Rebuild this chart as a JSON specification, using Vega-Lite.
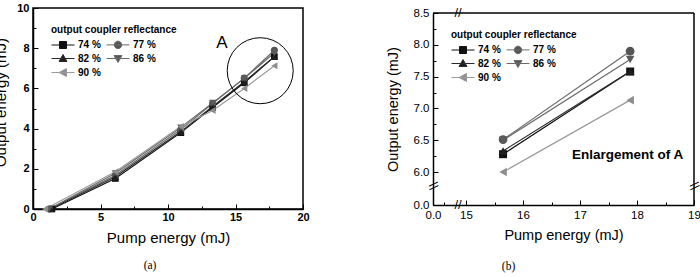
{
  "$schema": "https://vega.github.io/schema/vega-lite/v6.json",
  "padding": {"left": -7, "top": 1, "right": 0, "bottom": 0},
  "background": "white",
  "config": {
    "view": {"stroke": "black", "strokeWidth": 1.5},
    "font": "Liberation Sans",
    "legend": {"orient": "none", "direction": "horizontal", "columns": 2, "columnPadding": 3, "rowPadding": 1, "symbolSize": 100, "symbolStrokeWidth": 1, "symbolOpacity": 1, "labelOffset": 16, "labelFont": "Liberation Sans", "labelFontSize": 10, "labelFontWeight": "bold", "labelColor": "black", "titleFont": "Liberation Sans", "titleFontSize": 10, "titleFontWeight": "bold", "titleColor": "black", "titleBaseline": "top", "titlePadding": 4, "padding": 0}
  },
  "datasets": {
    "pts": [
      {"series": "74 %", "x": 1.4, "y": 0},
      {"series": "74 %", "x": 6.1, "y": 1.52},
      {"series": "74 %", "x": 10.95, "y": 3.8},
      {"series": "74 %", "x": 13.3, "y": 5.05},
      {"series": "74 %", "x": 15.65, "y": 6.28},
      {"series": "74 %", "x": 17.88, "y": 7.58},
      {"series": "77 %", "x": 1.2, "y": 0},
      {"series": "77 %", "x": 6.1, "y": 1.68},
      {"series": "77 %", "x": 10.95, "y": 3.95},
      {"series": "77 %", "x": 13.3, "y": 5.25},
      {"series": "77 %", "x": 15.65, "y": 6.51},
      {"series": "77 %", "x": 17.88, "y": 7.9},
      {"series": "82 %", "x": 1.3, "y": 0},
      {"series": "82 %", "x": 6.1, "y": 1.6},
      {"series": "82 %", "x": 10.95, "y": 3.85},
      {"series": "82 %", "x": 13.3, "y": 5.1},
      {"series": "82 %", "x": 15.65, "y": 6.33},
      {"series": "82 %", "x": 17.88, "y": 7.58},
      {"series": "86 %", "x": 1.2, "y": 0},
      {"series": "86 %", "x": 6.1, "y": 1.78},
      {"series": "86 %", "x": 10.95, "y": 4.05},
      {"series": "86 %", "x": 13.3, "y": 5.28},
      {"series": "86 %", "x": 15.65, "y": 6.5},
      {"series": "86 %", "x": 17.88, "y": 7.77},
      {"series": "90 %", "x": 0.9, "y": 0},
      {"series": "90 %", "x": 6.1, "y": 1.85},
      {"series": "90 %", "x": 10.95, "y": 4.1},
      {"series": "90 %", "x": 13.3, "y": 4.9},
      {"series": "90 %", "x": 15.65, "y": 6.0},
      {"series": "90 %", "x": 17.88, "y": 7.13}
    ]
  },
  "spacing": 75,
  "resolve": {
    "scale": {"color": "independent", "fill": "independent", "stroke": "independent", "shape": "independent"},
    "legend": {"color": "independent", "fill": "independent", "stroke": "independent", "shape": "independent"}
  },
  "hconcat": [
    {
      "width": 270,
      "height": 201,
      "title": {"text": "(a)", "orient": "bottom", "font": "Liberation Serif", "fontSize": 11.5, "fontWeight": "normal", "color": "black", "offset": 15, "dx": -18, "anchor": "middle"},
      "encoding": {
        "x": {"field": "x", "type": "quantitative",
          "scale": {"domain": [0, 20], "nice": false, "zero": false},
          "axis": {"title": "Pump energy (mJ)", "values": [0, 2.5, 5, 7.5, 10, 12.5, 15, 17.5, 20], "format": "d",
            "labelExpr": "datum.value % 5 === 0 ? datum.label : ''",
            "grid": false, "domainColor": "black", "domainWidth": 1.5, "tickColor": "black", "tickWidth": 1,
            "tickSize": {"condition": {"test": "datum.value % 5 === 0", "value": -5}, "value": -3},
            "labelPadding": 7, "labelFont": "Liberation Sans", "labelFontSize": 11, "labelFontWeight": "bold", "labelColor": "black",
            "labelFlush": false, "labelOverlap": false,
            "titleFont": "Liberation Sans", "titleFontSize": 15, "titleFontWeight": "normal", "titleColor": "black", "titlePadding": 6}},
        "y": {"field": "y", "type": "quantitative",
          "scale": {"domain": [0, 10], "nice": false, "zero": false},
          "axis": {"title": "Output energy (mJ)", "values": [0, 1, 2, 3, 4, 5, 6, 7, 8, 9, 10], "format": "d",
            "labelExpr": "datum.value % 2 === 0 ? datum.label : ''",
            "grid": false, "domainColor": "black", "domainWidth": 1.5, "tickColor": "black", "tickWidth": 1,
            "tickSize": {"condition": {"test": "datum.value % 2 === 0", "value": -5}, "value": -3},
            "labelPadding": 9, "labelFont": "Liberation Sans", "labelFontSize": 11, "labelFontWeight": "bold", "labelColor": "black",
            "labelFlush": false, "labelOverlap": false,
            "titleFont": "Liberation Sans", "titleFontSize": 15, "titleFontWeight": "normal", "titleColor": "black", "titlePadding": 8, "titleY": 94}}
      },
      "layer": [
        {
          "data": {"name": "pts"},
          "mark": {"type": "line", "strokeWidth": 1.2},
          "encoding": {"color": {"field": "series", "type": "nominal", "scale": {"range": ["#111111", "#6a6a6a", "#2a2a2a", "#6a6a6a", "#9a9a9a"]}, "legend": null}}
        },
        {
          "data": {"name": "pts"},
          "mark": {"type": "point", "filled": true, "opacity": 0, "size": 100, "strokeWidth": 1},
          "encoding": {
            "shape": {"field": "series", "type": "nominal",
              "scale": {"domain": ["74 %", "77 %", "82 %", "86 %", "90 %"], "range": [
                "M-1,0H3.6M0.6,-0.7H2V0.7H0.6Z",
                "M-1,0H3.6M0.55,0A0.75,0.75,0,1,1,2.05,0A0.75,0.75,0,1,1,0.55,0Z",
                "M-1,0H3.6M1.3,-0.8L2.1,0.6H0.5Z",
                "M-1,0H3.6M1.3,0.8L2.1,-0.6H0.5Z",
                "M-1,0H3.6M0.5,0L2,-0.8V0.8Z"]},
              "legend": {"title": "output coupler reflectance", "legendX": 18, "legendY": 17}},
            "fill": {"field": "series", "type": "nominal",
              "scale": {"domain": ["74 %", "77 %", "82 %", "86 %", "90 %"], "range": ["#111111", "#555555", "#1e1e1e", "#5a5a5a", "#8e8e8e"]},
              "legend": {"title": "output coupler reflectance", "legendX": 18, "legendY": 17}},
            "stroke": {"field": "series", "type": "nominal",
              "scale": {"domain": ["74 %", "77 %", "82 %", "86 %", "90 %"], "range": ["#111111", "#6a6a6a", "#2a2a2a", "#6a6a6a", "#9a9a9a"]},
              "legend": {"title": "output coupler reflectance", "legendX": 18, "legendY": 17}}
          }
        },
        {"data": {"name": "pts"}, "transform": [{"filter": "datum.series === '74 %'"}], "mark": {"type": "point", "shape": "square", "filled": true, "size": 45, "fill": "#111111", "opacity": 1}},
        {"data": {"name": "pts"}, "transform": [{"filter": "datum.series === '77 %'"}], "mark": {"type": "point", "shape": "circle", "filled": true, "size": 50, "fill": "#555555", "opacity": 1}},
        {"data": {"name": "pts"}, "transform": [{"filter": "datum.series === '82 %'"}], "mark": {"type": "point", "shape": "triangle-up", "filled": true, "size": 50, "fill": "#1e1e1e", "opacity": 1}},
        {"data": {"name": "pts"}, "transform": [{"filter": "datum.series === '86 %'"}], "mark": {"type": "point", "shape": "triangle-down", "filled": true, "size": 50, "fill": "#5a5a5a", "opacity": 1}},
        {"data": {"name": "pts"}, "transform": [{"filter": "datum.series === '90 %'"}], "mark": {"type": "point", "shape": "triangle-left", "filled": true, "size": 50, "fill": "#8e8e8e", "opacity": 1}},
        {"data": {"values": [{"x": 16.83, "y": 6.88}]}, "mark": {"type": "point", "shape": "circle", "filled": false, "size": 4356, "stroke": "black", "strokeWidth": 1, "opacity": 1}},
        {"data": {"values": [{"x": 14.0, "y": 8.27}]}, "mark": {"type": "text", "text": "A", "font": "Liberation Sans", "fontSize": 17, "color": "black", "align": "center", "baseline": "middle"}}
      ]
    },
    {
      "width": 261,
      "height": 197,
      "view": {"stroke": null},
      "title": {"text": "(b)", "orient": "bottom", "font": "Liberation Serif", "fontSize": 11.5, "fontWeight": "normal", "color": "black", "offset": 19, "dx": -55, "anchor": "middle"},
      "encoding": {
        "x": {"field": "x", "type": "quantitative",
          "scale": {"domain": [0, 15, 19], "range": [0, 33, 261], "nice": false, "zero": false},
          "axis": {"title": "Pump energy (mJ)", "values": [0, 5, 15, 15.5, 16, 16.5, 17, 17.5, 18, 18.5, 19], "format": "d",
            "labelExpr": "datum.value === 0 ? '0.0' : (datum.value >= 15 && datum.value % 1 === 0 ? datum.label : '')",
            "grid": false, "domainColor": "black", "domainWidth": 1.5, "tickColor": "black", "tickWidth": 1,
            "tickSize": {"condition": {"test": "datum.value % 1 === 0 && datum.value !== 5", "value": -5}, "value": -3},
            "labelPadding": 9, "labelFont": "Liberation Sans", "labelFontSize": 11.5, "labelFontWeight": "normal", "labelColor": "black",
            "labelFlush": false, "labelOverlap": false,
            "titleFont": "Liberation Sans", "titleFontSize": 14.5, "titleFontWeight": "normal", "titleColor": "black", "titlePadding": 6}},
        "y": {"field": "y", "type": "quantitative",
          "scale": {"domain": [0, 6, 8.5], "range": [197, 164, 5], "nice": false, "zero": false},
          "axis": {"title": "Output energy (mJ)", "values": [0, 6, 6.25, 6.5, 6.75, 7, 7.25, 7.5, 7.75, 8, 8.25, 8.5],
            "labelExpr": "datum.value % 0.5 === 0 ? format(datum.value, '.1f') : ''",
            "grid": false, "domainColor": "black", "domainWidth": 1.5, "tickColor": "black", "tickWidth": 1,
            "tickSize": {"condition": {"test": "datum.value % 0.5 === 0", "value": -5}, "value": -3},
            "labelPadding": 9, "labelFont": "Liberation Sans", "labelFontSize": 11.5, "labelFontWeight": "normal", "labelColor": "black",
            "labelFlush": false, "labelOverlap": false,
            "titleFont": "Liberation Sans", "titleFontSize": 14.5, "titleFontWeight": "normal", "titleColor": "black", "titlePadding": 13}}
      },
      "layer": [
        {"data": {"values": [{"x": 0, "x2": 19, "y": 8.5}]}, "mark": {"type": "rule", "color": "black", "strokeWidth": 1.5}, "encoding": {"x2": {"field": "x2"}}},
        {"data": {"values": [{"x": 19, "y": 0, "y2": 8.5}]}, "mark": {"type": "rule", "color": "black", "strokeWidth": 1.5}, "encoding": {"y2": {"field": "y2"}}},
        {
          "data": {"name": "pts"},
          "transform": [{"filter": "datum.x > 15"}],
          "mark": {"type": "line", "strokeWidth": 1.2},
          "encoding": {"color": {"field": "series", "type": "nominal", "scale": {"range": ["#111111", "#6a6a6a", "#2a2a2a", "#6a6a6a", "#9a9a9a"]}, "legend": null}}
        },
        {
          "data": {"name": "pts"},
          "transform": [{"filter": "datum.x > 15"}],
          "mark": {"type": "point", "filled": true, "opacity": 0, "size": 100, "strokeWidth": 1},
          "encoding": {
            "shape": {"field": "series", "type": "nominal",
              "scale": {"domain": ["74 %", "77 %", "82 %", "86 %", "90 %"], "range": [
                "M-1,0H3.6M0.6,-0.7H2V0.7H0.6Z",
                "M-1,0H3.6M0.55,0A0.75,0.75,0,1,1,2.05,0A0.75,0.75,0,1,1,0.55,0Z",
                "M-1,0H3.6M1.3,-0.8L2.1,0.6H0.5Z",
                "M-1,0H3.6M1.3,0.8L2.1,-0.6H0.5Z",
                "M-1,0H3.6M0.5,0L2,-0.8V0.8Z"]},
              "legend": {"title": "output coupler reflectance", "legendX": 18, "legendY": 22}},
            "fill": {"field": "series", "type": "nominal",
              "scale": {"domain": ["74 %", "77 %", "82 %", "86 %", "90 %"], "range": ["#111111", "#555555", "#1e1e1e", "#5a5a5a", "#8e8e8e"]},
              "legend": {"title": "output coupler reflectance", "legendX": 18, "legendY": 22}},
            "stroke": {"field": "series", "type": "nominal",
              "scale": {"domain": ["74 %", "77 %", "82 %", "86 %", "90 %"], "range": ["#111111", "#6a6a6a", "#2a2a2a", "#6a6a6a", "#9a9a9a"]},
              "legend": {"title": "output coupler reflectance", "legendX": 18, "legendY": 22}}
          }
        },
        {"data": {"name": "pts"}, "transform": [{"filter": "datum.x > 15 && datum.series === '74 %'"}], "mark": {"type": "point", "shape": "square", "filled": true, "size": 64, "fill": "#111111", "opacity": 1}},
        {"data": {"name": "pts"}, "transform": [{"filter": "datum.x > 15 && datum.series === '77 %'"}], "mark": {"type": "point", "shape": "circle", "filled": true, "size": 75, "fill": "#555555", "opacity": 1}},
        {"data": {"name": "pts"}, "transform": [{"filter": "datum.x > 15 && datum.series === '82 %'"}], "mark": {"type": "point", "shape": "triangle-up", "filled": true, "size": 75, "fill": "#1e1e1e", "opacity": 1}},
        {"data": {"name": "pts"}, "transform": [{"filter": "datum.x > 15 && datum.series === '86 %'"}], "mark": {"type": "point", "shape": "triangle-down", "filled": true, "size": 75, "fill": "#5a5a5a", "opacity": 1}},
        {"data": {"name": "pts"}, "transform": [{"filter": "datum.x > 15 && datum.series === '90 %'"}], "mark": {"type": "point", "shape": "triangle-left", "filled": true, "size": 75, "fill": "#8e8e8e", "opacity": 1}},
        {"data": {"values": [{"x": 16.86, "y": 6.27}]}, "mark": {"type": "text", "text": "Enlargement of A", "font": "Liberation Sans", "fontSize": 13.5, "fontWeight": "bold", "color": "black", "align": "left", "baseline": "middle"}},
        {"data": {"values": [{"x": 11.4, "y": 8.5}, {"x": 11.4, "y": 0}]}, "mark": {"type": "text", "text": "//", "font": "Liberation Sans", "fontSize": 13, "color": "black", "align": "center", "baseline": "middle"}},
        {"data": {"values": [{"x": 0, "y": 3.45}, {"x": 19, "y": 3.45}]}, "mark": {"type": "text", "text": "\\\\", "font": "Liberation Sans", "fontSize": 13, "angle": 80, "color": "black", "align": "center", "baseline": "middle"}}
      ]
    }
  ]
}
